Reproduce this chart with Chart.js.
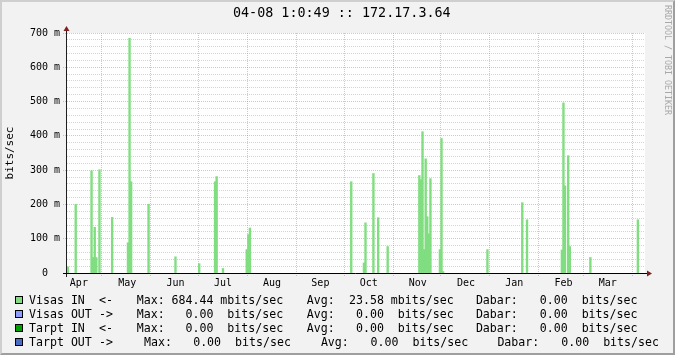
<!DOCTYPE html>
<html>
<head>
<meta charset="utf-8">
<script src="https://cdn.jsdelivr.net/npm/chart.js@4.4.1/dist/chart.umd.min.js"></script>
<style>
    body { margin: 0; background: #f2f2f2; }
    #wrap { position: relative; width: 675px; height: 355px; background: #f2f2f2; overflow: hidden; font-family: "DejaVu Sans Mono", monospace; color: #000; }
    #chart { position: absolute; left: 0; top: 0; }
    #frame { position: absolute; left: 0; top: 0; width: 675px; height: 355px; box-sizing: border-box;
             border-top: 2px solid #cfcfcf; border-left: 2px solid #cfcfcf;
             border-right: 2px solid #9e9e9e; border-bottom: 2px solid #9e9e9e; pointer-events: none; }
    #title { position: absolute; left: 233px; top: 5.4px; font-size: 13.4px; line-height: 16px; white-space: pre; }
    #mark { position: absolute; left: 664px; top: 5px; writing-mode: vertical-rl; font-size: 8.3px; line-height: 8px; color: #a8a8a8; white-space: pre; }
    .lg { position: absolute; font-size: 11.6px; line-height: 14px; white-space: pre; }
    .sw { position: absolute; width: 8px; height: 8px; box-sizing: border-box; border: 1px solid #000; }
</style>
</head>
<body>
<div id="wrap">
    <canvas id="chart" width="675" height="355"></canvas>
    <div id="title">04-08 1:0:49 :: 172.17.3.64</div>
    <div id="mark">RRDTOOL / TOBI OETIKER</div>
    <div id="legend"></div>
    <div id="frame"></div>
</div>
<script>
// Days counted from the left edge of the graph (Apr 9 of the previous year), 365 days shown
const monthLabels = ['Apr', 'May', 'Jun', 'Jul', 'Aug', 'Sep', 'Oct', 'Nov', 'Dec', 'Jan', 'Feb', 'Mar'];
const monthLabelDays = [7.5, 38, 68.5, 98.5, 129.5, 160, 190.5, 221.5, 252, 282.5, 313.5, 341.5];
const monthStartDays = [22, 53, 83, 114, 145, 175, 206, 236, 267, 298, 326, 357];

// Visas IN traffic, in milli bits/sec (only days with traffic)
const inDays   = [0, 5, 15, 16, 17, 18, 20, 28, 38, 39, 40, 51, 68, 83, 93, 94, 98, 113, 114, 115,
                  179, 187, 188, 193, 196, 202, 222, 223, 224, 225, 226, 227, 228, 229, 235, 236, 237,
                  265, 287, 290, 312, 313, 314, 316, 317, 330, 360];
const inValues = [18, 200, 298, 45, 133, 45, 301, 162, 88, 684.44, 266, 200, 47, 27, 266, 281, 13, 68, 112, 131,
                  266, 29, 146, 290, 161, 77, 284, 272, 412, 68, 333, 164, 114, 275, 68, 392, 4,
                  68, 205, 155, 67, 496, 254, 342, 77, 45, 155];

// Legend
const seriesNames  = ['Visas IN', 'Visas OUT', 'Tarpt IN', 'Tarpt OUT'];
const seriesArrows = ['<-', '->', '<-', '->'];
const seriesColors = ['#80dd80', '#8c9cff', '#00a000', '#4a6cc4'];
const maxValues = [684.44, 0, 0, 0];
const maxUnits  = ['mbits/sec', 'bits/sec', 'bits/sec', 'bits/sec'];
const avgValues = [23.58, 0, 0, 0];
const avgUnits  = ['mbits/sec', 'bits/sec', 'bits/sec', 'bits/sec'];
const curValues = [0, 0, 0, 0];
const curUnits  = ['bits/sec', 'bits/sec', 'bits/sec', 'bits/sec'];

const FONT = '"DejaVu Sans Mono", monospace';
const MAJOR = 'rgba(222, 79, 79, 0.4)';
const MINOR = 'rgba(143, 143, 143, 0.38)';

function buildLegend() {
    const colsA = [29, 99, 136.7, 171.5, 306.7, 342, 475.9, 525.8];
    const colsB = [29, 99, 144, 179.2, 320.9, 356.6, 497.4, 547.3];
    const legend = document.getElementById('legend');
    let html = '';
    seriesNames.forEach((name, i) => {
        const cols = i === 3 ? colsB : colsA;
        const top = 292.7 + i * 14;
        const fmt = (v, u) => v.toFixed(2).padStart(6) + ' ' + u.padStart(9);
        const parts = [name, seriesArrows[i], 'Max:', fmt(maxValues[i], maxUnits[i]),
                       'Avg:', fmt(avgValues[i], avgUnits[i]), 'Dabar:', fmt(curValues[i], curUnits[i])];
        html += `<div class="sw" style="left:15px;top:${295.5 + i * 14}px;background:${seriesColors[i]}"></div>`;
        parts.forEach((p, j) => {
            html += `<div class="lg" style="left:${cols[j]}px;top:${top}px">${p.replace(/</g, '&lt;').replace(/>/g, '&gt;')}</div>`;
        });
    });
    legend.innerHTML = html;
}

// White canvas behind the plot, axes with arrows on top
const rrdFrame = {
    id: 'rrdFrame',
    beforeDraw(chart) {
        const { ctx, chartArea: a } = chart;
        ctx.save();
        ctx.fillStyle = '#ffffff';
        ctx.fillRect(a.left, a.top, a.right - a.left, a.bottom - a.top);
        ctx.restore();
    },
    afterDraw(chart) {
        const { ctx, chartArea: a } = chart;
        ctx.save();
        ctx.lineWidth = 1;
        ctx.strokeStyle = '#1f1f1f';
        ctx.beginPath();
        ctx.moveTo(a.left - 0.5, a.bottom + 4);
        ctx.lineTo(a.left - 0.5, a.top - 5);
        ctx.stroke();
        ctx.strokeStyle = '#000000';
        ctx.beginPath();
        ctx.moveTo(a.left - 4, a.bottom + 0.5);
        ctx.lineTo(a.right + 3, a.bottom + 0.5);
        ctx.stroke();
        ctx.fillStyle = '#801f1f';
        ctx.beginPath();
        ctx.moveTo(a.left - 3.5, a.top - 2);
        ctx.lineTo(a.left + 2.5, a.top - 2);
        ctx.lineTo(a.left - 0.5, a.top - 7);
        ctx.closePath();
        ctx.fill();
        ctx.beginPath();
        ctx.moveTo(a.right + 2, a.bottom - 2.5);
        ctx.lineTo(a.right + 2, a.bottom + 3.5);
        ctx.lineTo(a.right + 7, a.bottom + 0.5);
        ctx.closePath();
        ctx.fill();
        ctx.restore();
    }
};

function createChart() {
    const ctx = document.getElementById('chart').getContext('2d');
    const xTicks = monthStartDays.concat(monthLabelDays).sort((a, b) => a - b);

    new Chart(ctx, {
        type: 'bar',
        data: {
            datasets: [{
                label: 'Visas IN',
                data: inDays.map((d, i) => ({ x: d + 0.5, y: inValues[i] })),
                backgroundColor: seriesColors[0],
                borderWidth: 0,
                inflateAmount: 0.4,
                barPercentage: 1,
                categoryPercentage: 1
            }]
        },
        options: {
            responsive: false,
            animation: false,
            layout: { padding: { top: 33, right: 30, bottom: 0, left: 0 } },
            plugins: {
                legend: { display: false },
                tooltip: { enabled: false }
            },
            scales: {
                x: {
                    type: 'linear',
                    min: 0,
                    max: 365,
                    offset: false,
                    afterFit: s => { s.height = 82; },
                    afterBuildTicks: s => { s.ticks = xTicks.map(v => ({ value: v })); },
                    grid: {
                        offset: false,
                        lineWidth: 1,
                        color: c => monthStartDays.includes(c.tick.value) ? MAJOR : 'transparent',
                        tickColor: c => monthStartDays.includes(c.tick.value) ? MAJOR : 'transparent',
                        tickLength: 4,
                        tickBorderDash: [1, 1]
                    },
                    border: { display: false, dash: [1, 1] },
                    ticks: {
                        autoSkip: false,
                        maxRotation: 0,
                        minRotation: 0,
                        padding: 0,
                        color: '#000',
                        font: { family: FONT, size: 10 },
                        callback: v => {
                            const i = monthLabelDays.indexOf(v);
                            return i >= 0 ? monthLabels[i] : '';
                        }
                    }
                },
                y: {
                    min: 0,
                    max: 700,
                    afterFit: s => { s.width = 67; },
                    grid: {
                        lineWidth: 1,
                        color: c => c.tick.value % 100 === 0 ? MAJOR : MINOR,
                        tickColor: c => c.tick.value % 100 === 0 ? MAJOR : 'transparent',
                        tickLength: 4,
                        tickBorderDash: [1, 1]
                    },
                    border: { display: false, dash: [1, 1] },
                    title: {
                        display: true,
                        text: 'bits/sec',
                        color: '#000',
                        font: { family: FONT, size: 11 },
                        padding: { top: 4, bottom: 0 }
                    },
                    ticks: {
                        stepSize: 20,
                        autoSkip: false,
                        padding: 3,
                        color: '#000',
                        font: { family: FONT, size: 10 },
                        callback: v => v === 0 ? '0  ' : (v % 100 === 0 ? v + ' m' : '')
                    }
                }
            }
        },
        plugins: [rrdFrame]
    });
}

buildLegend();
createChart();
</script>
</body>
</html>
